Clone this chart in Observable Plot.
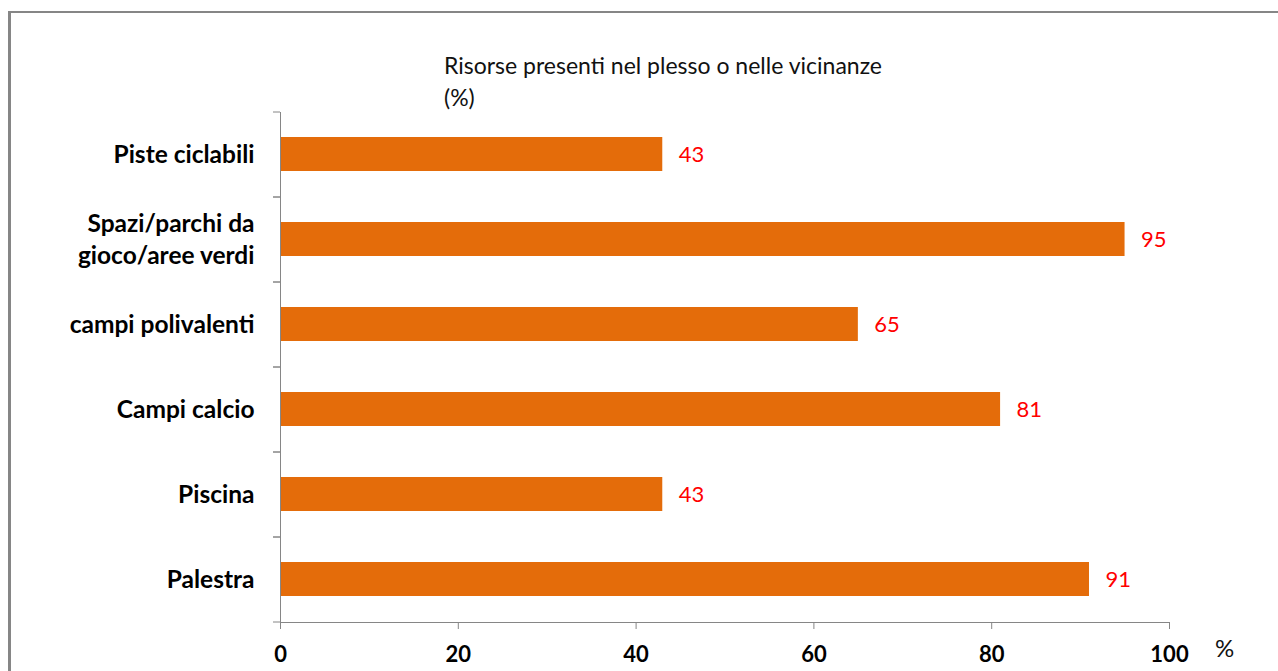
<!DOCTYPE html>
<html>
<head>
<meta charset="utf-8">
<script src="https://cdn.jsdelivr.net/npm/d3@7"></script>
<script src="https://cdn.jsdelivr.net/npm/@observablehq/plot@0.6"></script>
<style>
  html, body { margin: 0; padding: 0; background: #fff; }
  #wrap { position: relative; width: 1278px; height: 671px; overflow: hidden; font-family: Lato, "Open Sans", sans-serif; }
  #border { position: absolute; left: 8px; top: 11px; width: 1400px; height: 800px; border-left: 3px solid #868686; border-top: 2px solid #868686; }
  #title { position: absolute; left: 444px; top: 49px; font-size: 23px; line-height: 32px; color: #111; }
  #unit { position: absolute; left: 1215px; top: 633px; font-size: 24px; line-height: normal; color: #111; }
  #chart { position: absolute; left: 0; top: 0; }
</style>
</head>
<body>
<div id="wrap">
  <div id="border"></div>
  <div id="chart"></div>
  <div id="title">Risorse presenti nel plesso o nelle vicinanze<br>(%)</div>
  <div id="unit">%</div>
</div>
<script>
const categories = [
  "Piste ciclabili",
  "Spazi/parchi da\ngioco/aree verdi",
  "campi polivalenti",
  "Campi calcio",
  "Piscina",
  "Palestra"
];
const values = [43, 95, 65, 81, 43, 91];
const xTicks = [0, 20, 40, 60, 80, 100];

const data = categories.map((c, i) => ({category: c, value: values[i]}));
const gray = "#868686";

const chart = Plot.plot({
  width: 1278,
  height: 671,
  marginLeft: 280,
  marginRight: 109,
  marginTop: 112,
  marginBottom: 49,
  style: {fontFamily: "Lato, 'Open Sans', sans-serif", background: "transparent"},
  x: {domain: [0, 100]},
  y: {domain: categories, paddingInner: 0.6, paddingOuter: 0.3},
  marks: [
    Plot.barX(data, {x: "value", y: "category", fill: "#E46C0A"}),
    Plot.text(data, {x: "value", y: "category", text: d => String(d.value), textAnchor: "start", dx: 16, fill: "#FF0000", fontSize: 22}),
    Plot.frame({anchor: "left", stroke: gray}),
    Plot.frame({anchor: "bottom", stroke: gray}),
    Plot.axisY({tickSize: 0, tickPadding: 26, fontSize: 24.5, fontWeight: "bold", fill: "#000", lineHeight: 1.32, dy: -2, label: null}),
    Plot.axisY({tickSize: 7, tickFormat: null, dy: -42.5, stroke: gray, label: null}),
    Plot.axisY({tickSize: 7, tickFormat: null, dy: 42.5, stroke: gray, label: null}),
    Plot.axisX({ticks: xTicks, tickSize: 7, tickPadding: 17, stroke: gray, fontSize: 22, fontWeight: "bold", fill: "#000", label: null})
  ]
});
document.getElementById("chart").appendChild(chart);
</script>
</body>
</html>
